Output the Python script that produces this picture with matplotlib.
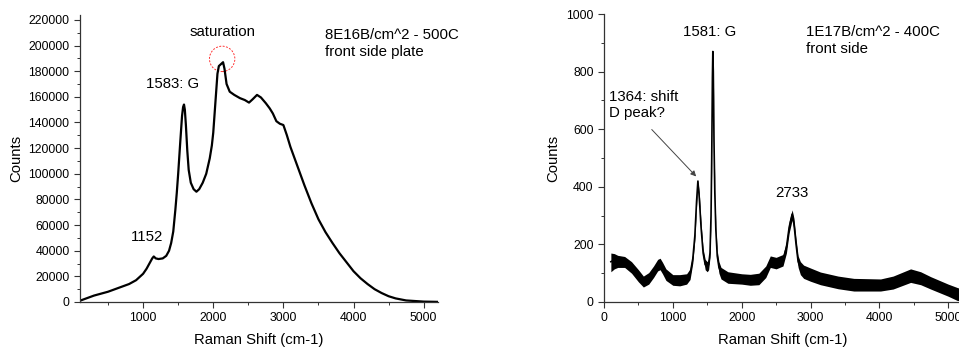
import matplotlib
matplotlib.use("Agg")
import matplotlib.pyplot as plt
from matplotlib.patches import Ellipse
from matplotlib.ticker import MultipleLocator

plt.rcParams["font.family"] = ["Liberation Sans", "DejaVu Sans"]

# left spectrum: 8E16 B/cm^2, 500C, front side plate
shift_a = [100, 200, 300, 400, 500, 600, 700, 800, 900, 1000, 1050, 1100, 1130, 1152,
           1180, 1220, 1280, 1330, 1370, 1400, 1430, 1460, 1480, 1500, 1530, 1555, 1570,
           1583, 1595, 1610, 1630, 1650, 1680, 1720, 1760, 1800, 1850, 1900, 1950, 1980,
           2000, 2030, 2060, 2080, 2100, 2120, 2140, 2160, 2190, 2235, 2300, 2380, 2450,
           2510, 2560, 2624, 2680, 2750, 2805, 2850, 2900, 2950, 3000, 3050, 3100, 3200,
           3300, 3400, 3500, 3600, 3700, 3800, 3900, 4000, 4100, 4200, 4300, 4400, 4500,
           4600, 4750, 5000, 5200]
counts_a = [1000, 3000, 5000, 6500, 8000, 10000, 12000, 14000, 17000, 22000, 26000,
            31000, 34000, 35500, 34000, 33500, 34000, 36000, 40000, 46000, 55000, 72000,
            85000, 100000, 125000, 145000, 152000, 154000, 150000, 138000, 118000, 103000,
            93000, 88000, 86000, 88000, 93000, 100000, 112000, 122000, 132000, 155000,
            178000, 184000, 185000, 186000, 187000, 182000, 170000, 164000, 161500, 159000,
            157500, 155500, 158000, 161500, 159500, 155000, 151000, 147000, 141000, 139000,
            138000, 130000, 121000, 106000, 91000, 77000, 64500, 54500, 46000, 38000,
            31000, 24000, 18500, 14000, 10000, 7000, 4500, 2800, 1200, 300, 100]

# right spectrum: 1E17 B/cm^2, 400C, front side (noisy band: low / mid / high)
shift_b = [100, 150, 200, 300, 400, 500, 572, 650, 720, 780, 815, 850, 900, 1000, 1100,
           1200, 1250, 1290, 1320, 1345, 1364, 1385, 1410, 1440, 1470, 1500, 1520, 1540,
           1555, 1565, 1575, 1581, 1588, 1598, 1610, 1625, 1645, 1670, 1700, 1800, 2000,
           2125, 2250, 2350, 2416, 2500, 2600, 2650, 2690, 2733, 2760, 2790, 2820, 2853,
           2900, 3000, 3144, 3400, 3629, 4017, 4200, 4454, 4600, 4745, 5000, 5134, 5200]
counts_b = [140, 145, 140, 138, 120, 92, 70, 82, 105, 128, 133, 118, 95, 77, 75, 80, 95,
            150, 230, 350, 420, 360, 260, 170, 130, 122, 130, 170, 300, 500, 780, 870,
            800, 560, 380, 250, 160, 120, 100, 85, 80, 77, 80, 105, 140, 135, 145, 190,
            260, 305, 270, 200, 140, 117, 105, 95, 82, 68, 60, 59, 68, 90, 82, 65, 40, 26,
            25]
low_b = [105, 115, 120, 120, 100, 70, 52, 62, 85, 108, 112, 98, 75, 58, 56, 62, 78, 135,
         215, 335, 405, 345, 245, 155, 112, 105, 112, 155, 285, 485, 765, 850, 780, 545,
         365, 235, 145, 100, 80, 65, 62, 58, 60, 85, 120, 115, 125, 170, 240, 285, 250,
         180, 120, 95, 82, 72, 60, 46, 38, 38, 45, 68, 60, 45, 20, 5, 5]
high_b = [170, 168, 162, 158, 140, 112, 90, 102, 125, 148, 152, 138, 115, 95, 95, 98, 115,
          168, 245, 365, 425, 375, 275, 185, 148, 140, 150, 190, 315, 515, 800, 875, 815,
          580, 395, 265, 178, 140, 120, 105, 98, 96, 100, 125, 160, 155, 165, 210, 280,
          320, 290, 220, 160, 140, 128, 118, 104, 90, 82, 80, 90, 115, 105, 88, 62, 50, 45]


def style_axis(ax):
    for side in ("top", "right"):
        ax.spines[side].set_visible(False)
    for side in ("left", "bottom"):
        ax.spines[side].set_color("#333333")
        ax.spines[side].set_linewidth(0.9)
    ax.tick_params(which="major", direction="out", length=4, width=0.8,
                   labelsize=8.8, colors="#333333", labelcolor="black")
    ax.tick_params(which="minor", direction="out", length=2.2, width=0.7, colors="#333333")
    ax.set_xlabel("Raman Shift (cm-1)", fontsize=10.7, labelpad=6)
    ax.set_ylabel("Counts", fontsize=10.7, labelpad=4)


fig = plt.figure(figsize=(9.59, 3.49), dpi=100)

ax1 = fig.add_axes([0.0834, 0.1347, 0.373, 0.823])
ax1.plot(shift_a, counts_a, color="black", linewidth=1.6)
ax1.set_xlim(100, 5200)
ax1.set_ylim(0, 224000)
ax1.set_xticks([1000, 2000, 3000, 4000, 5000])
ax1.xaxis.set_minor_locator(MultipleLocator(500))
ax1.set_yticks(range(0, 220001, 20000))
ax1.yaxis.set_minor_locator(MultipleLocator(10000))
style_axis(ax1)
ax1.add_patch(Ellipse((2127, 189600), width=362, height=19800, fill=False,
                      edgecolor="red", linestyle=(0, (2, 1.5)), linewidth=0.7, alpha=0.8))
ax1.text(2135, 210600, "saturation", fontsize=10.8, ha="center", va="center")
ax1.text(1423, 169800, "1583: G", fontsize=10.8, ha="center", va="center")
ax1.text(1053, 50900, "1152", fontsize=10.8, ha="center", va="center")
ax1.text(3588, 201400, "8E16B/cm^2 - 500C\nfront side plate", fontsize=10.8,
         ha="left", va="center", linespacing=1.25)

ax2 = fig.add_axes([0.6298, 0.1347, 0.3733, 0.825])
ax2.fill_between(shift_b, low_b, high_b, color="black", linewidth=0)
ax2.plot(shift_b, counts_b, color="black", linewidth=1.2)
ax2.set_xlim(0, 5200)
ax2.set_ylim(0, 1000)
ax2.set_xticks([0, 1000, 2000, 3000, 4000, 5000])
ax2.xaxis.set_minor_locator(MultipleLocator(500))
ax2.set_yticks(range(0, 1001, 200))
ax2.yaxis.set_minor_locator(MultipleLocator(100))
style_axis(ax2)
ax2.text(1533, 939, "1581: G", fontsize=10.8, ha="center", va="center")
ax2.text(2935, 907, "1E17B/cm^2 - 400C\nfront side", fontsize=10.8,
         ha="left", va="center", linespacing=1.25)
ax2.text(2732, 378, "2733", fontsize=10.8, ha="center", va="center")
ax2.text(77, 683, "1364: shift\nD peak?", fontsize=10.8, ha="left", va="center",
         linespacing=1.2)
ax2.annotate("", xy=(1339, 436), xytext=(694, 599),
             arrowprops=dict(arrowstyle="-|>", color="#444444", lw=0.7,
                             mutation_scale=8, shrinkA=0, shrinkB=0))

fig.savefig("out.png", dpi=100)
